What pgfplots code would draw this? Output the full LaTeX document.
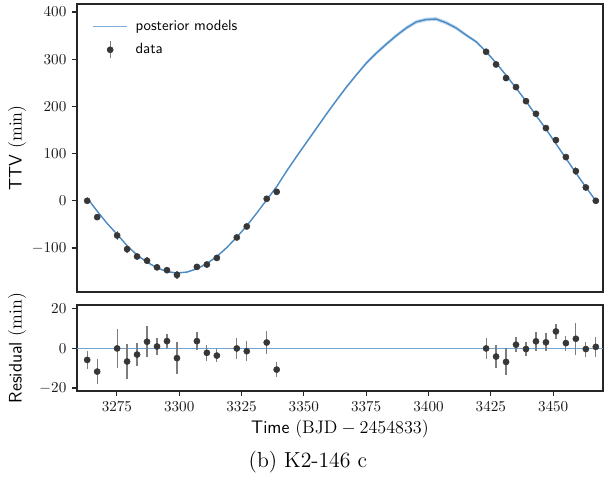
\documentclass[border=0pt]{standalone}
\usepackage{pgfplots}
\usepackage{pgfplotstable}
\pgfplotsset{compat=1.18}
\usepgfplotslibrary{fillbetween}
\definecolor{post}{RGB}{76,138,196}
\definecolor{band}{RGB}{182,210,235}
\definecolor{zeroline}{RGB}{115,165,212}
\definecolor{ptc}{RGB}{55,55,55}
\definecolor{ebc}{RGB}{125,125,125}
\definecolor{frame}{RGB}{38,38,38}

\pgfplotstableread{
t ttv err res
3263.1 0.0 4.5 -5.8
3267.1 -34.6 6.4 -11.7
3275.1 -73.5 9.8 0.0
3279.1 -102.4 8.6 -6.6
3283.1 -118.0 5.7 -3.1
3287.1 -127.0 7.8 3.4
3291.1 -141.0 4.5 1.0
3295.1 -147.0 3.6 3.7
3299.1 -157.0 8.0 -4.9
3307.1 -140.0 4.7 3.7
3311.1 -135.0 3.9 -2.2
3315.1 -121.0 3.5 -3.6
3323.1 -77.7 5.3 0.0
3327.1 -54.4 5.0 -1.4
3335.1 4.2 5.8 3.0
3339.1 19.0 3.6 -10.7
3423.1 315.7 5.4 0.0
3427.1 288.8 5.7 -4.1
3431.1 260.0 6.8 -6.8
3435.1 240.8 3.9 1.9
3439.1 211.0 3.6 -0.3
3443.1 184.3 4.7 3.6
3447.1 154.0 4.5 3.1
3451.1 128.6 3.9 8.6
3455.1 92.6 3.8 2.7
3459.1 62.9 8.0 4.9
3463.1 28.2 3.8 -0.3
3467.1 0.0 5.2 0.8
}\obs

\pgfplotstableread{
t mid lo hi
3263.1 6 4.5 7.5
3267.1 -22 -23.5 -20.5
3271.1 -48 -49.5 -46.5
3275.1 -71 -72.5 -69.5
3279.1 -95 -96.5 -93.5
3283.1 -115 -116.5 -113.5
3287.1 -130 -131.5 -128.5
3291.1 -142 -143.5 -140.5
3295.1 -150 -151.5 -148.5
3299.1 -153 -154.5 -151.5
3303.1 -151 -152.5 -149.5
3307.1 -144 -145.5 -142.5
3311.1 -133 -134.5 -131.5
3315.1 -118 -119.5 -116.5
3319.1 -99 -100.5 -97.5
3323.1 -77 -78.5 -75.5
3327.1 -53 -54.5 -51.5
3331.1 -26 -27.5 -24.5
3335.1 2 0.5 3.5
3339.1 30 28.5 31.5
3343.1 63 61.5 64.5
3347.1 94 91.5 96.5
3351.1 124 121.5 126.5
3355.1 154 151.5 156.5
3359.1 184 181.5 186.5
3363.1 213 210.5 215.5
3367.1 241 238 244
3371.1 267 264 270
3375.1 292 288.5 295.5
3379.1 313 309 317
3383.1 332 328 336
3387.1 350 346 354
3391.1 366 362 370
3395.1 379 375 383
3399.1 384 380 388
3403.1 385 381 389
3407.1 377 373 381
3411.1 366 362 370
3415.1 351 347.5 354.5
3419.1 337 334 340
3423.1 316 313.5 318.5
3427.1 292 290 294
3431.1 266 264 268
3435.1 239 237 241
3439.1 211 209 213
3443.1 181 179 183
3447.1 152 150 154
3451.1 121 119 123
3455.1 90 88 92
3459.1 59 57 61
3463.1 29 27.5 30.5
3467.1 0 -1.5 1.5
}\model

\pgfplotsset{
  panel/.style={
    scale only axis,
    width=347.8pt,
    xmin=3259, xmax=3470,
    axis line style={color=frame, line width=0.9pt},
    tick align=outside,
    major tick length=3.5pt,
    tick style={color=frame, line width=0.8pt},
    xtick pos=bottom, ytick pos=left,
    ticklabel style={font=\normalsize, color=black!90},
    /pgf/number format/1000 sep={},
    label style={font=\large},
    ylabel style={at={(axis description cs:-0.114,0.5)}, anchor=center},
  },
}

\begin{document}
\begin{tikzpicture}
\begin{axis}[panel,
  name=top,
  at={(0pt,0pt)}, anchor=north west,
  height=190.4pt,
  ymin=-193, ymax=417,
  ytick={-100,0,100,200,300,400},
  xtick=\empty,
  ylabel={\sffamily TTV $(\mathrm{min})$},
  legend style={at={(0.02,0.965)}, anchor=north west, draw=none, fill=none,
    font=\fontsize{9.8}{12}\selectfont\sffamily, row sep=3pt,
    /tikz/every even column/.append style={column sep=4pt}},
  legend cell align=left,
]
\addplot[name path=hiP, draw=none, forget plot] table[x=t, y=hi] {\model};
\addplot[name path=loP, draw=none, forget plot] table[x=t, y=lo] {\model};
\addplot[band, fill opacity=0.9, forget plot] fill between[of=hiP and loP];
\addplot[post, line width=0.9pt,
  legend image code/.code={\draw[post!70, line width=0.8pt] (0cm,0cm) -- (0.8cm,0cm);}]
  table[x=t, y=mid] {\model};
\addlegendentry{\hspace{3pt}posterior models}
\addplot[only marks, mark=*, mark size=2pt, color=ptc,
  mark options={fill=ptc, draw=ptc},
  legend image code/.code={
    \draw[ebc, line width=0.8pt] (0.4cm,-0.2cm) -- (0.4cm,0.2cm);
    \fill[ptc] (0.4cm,0cm) circle (2pt);},
  error bars/.cd, y dir=both, y explicit,
  error bar style={ebc, line width=0.8pt}, error mark=none]
  table[x=t, y=ttv, y error=err] {\obs};
\addlegendentry{\hspace{3pt}data}
\end{axis}

\begin{axis}[panel,
  name=bot,
  at={(0pt,-199.0pt)}, anchor=north west,
  height=56.9pt,
  ymin=-21.5, ymax=22,
  ytick={-20,0,20},
  xtick={3275,3300,3325,3350,3375,3400,3425,3450},
  ylabel={\sffamily Residual $(\mathrm{min})$},
  xlabel={\sffamily Time $(\mathrm{BJD}-2454833)$},
  xlabel style={at={(axis description cs:0.5,-0.44)}, anchor=center},
]
\addplot[zeroline, line width=0.8pt] coordinates {(3259,0) (3470,0)};
\addplot[only marks, mark=*, mark size=2pt, color=ptc,
  mark options={fill=ptc, draw=ptc},
  error bars/.cd, y dir=both, y explicit,
  error bar style={ebc, line width=0.8pt}, error mark=none]
  table[x=t, y=res, y error=err] {\obs};
\end{axis}

\node[font=\Large] at (152.7pt,-302.8pt) {(b) K2-146 c};
\pgfresetboundingbox
\path (-50.9pt,2.6pt) rectangle (349.1pt,-318.7pt);
\end{tikzpicture}
\end{document}
